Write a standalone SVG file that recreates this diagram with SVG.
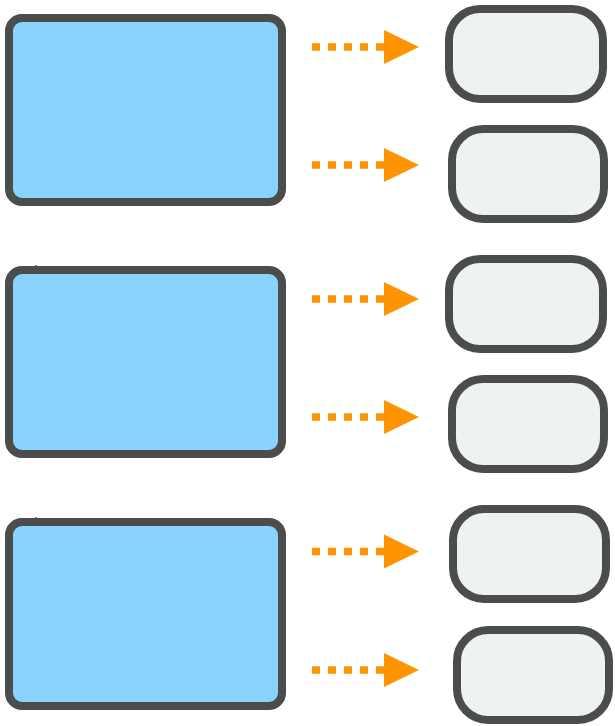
<svg xmlns="http://www.w3.org/2000/svg" width="615" height="726" viewBox="0 0 615 726">
  <style>
    .src { fill: #89d3fe; stroke: #4b4d4c; stroke-width: 8; }
    .dst { fill: #eef2f3; stroke: #4b4d4c; stroke-width: 8; }
    .dash { stroke: #fe9400; stroke-width: 7.5; stroke-dasharray: 8 8; fill: none; }
    .head { fill: #fe9400; }
    .tick { stroke: #4b4d4c; stroke-width: 1.5; }
  </style>
  <rect width="615" height="726" fill="#ffffff"/>
  <g id="source1"><rect class="src" x="9" y="18" width="273" height="184" rx="13"/></g>
  <g id="source2"><rect class="src" x="9" y="270" width="273" height="184" rx="13"/><line class="tick" x1="36" y1="265" x2="36" y2="271"/></g>
  <g id="source3"><rect class="src" x="9" y="522" width="273" height="184" rx="13"/><line class="tick" x1="36" y1="517" x2="36" y2="523"/></g>
  <g id="target1"><rect class="dst" x="449" y="9" width="154" height="90" rx="31"/></g>
  <g id="target2"><rect class="dst" x="452" y="129" width="152" height="90" rx="31"/></g>
  <g id="target3"><rect class="dst" x="449" y="259" width="154" height="90" rx="31"/></g>
  <g id="target4"><rect class="dst" x="452" y="379" width="152" height="90" rx="31"/></g>
  <g id="target5"><rect class="dst" x="453" y="509" width="153" height="90" rx="31"/></g>
  <g id="target6"><rect class="dst" x="457" y="630" width="152" height="90" rx="31"/></g>
  <g id="connectors">
    <line class="dash" x1="312" y1="47" x2="384" y2="47"/>
    <polygon class="head" points="384,30 419,47 384,64"/>
    <line class="dash" x1="312" y1="165" x2="384" y2="165"/>
    <polygon class="head" points="384,148 419,165 384,182"/>
    <line class="dash" x1="312" y1="299" x2="384" y2="299"/>
    <polygon class="head" points="384,282 419,299 384,316"/>
    <line class="dash" x1="312" y1="417" x2="384" y2="417"/>
    <polygon class="head" points="384,400 419,417 384,434"/>
    <line class="dash" x1="312" y1="551.5" x2="384" y2="551.5"/>
    <polygon class="head" points="384,534.5 419,551.5 384,568.5"/>
    <line class="dash" x1="312" y1="670" x2="384" y2="670"/>
    <polygon class="head" points="384,653 419,670 384,687"/>
  </g>
</svg>
